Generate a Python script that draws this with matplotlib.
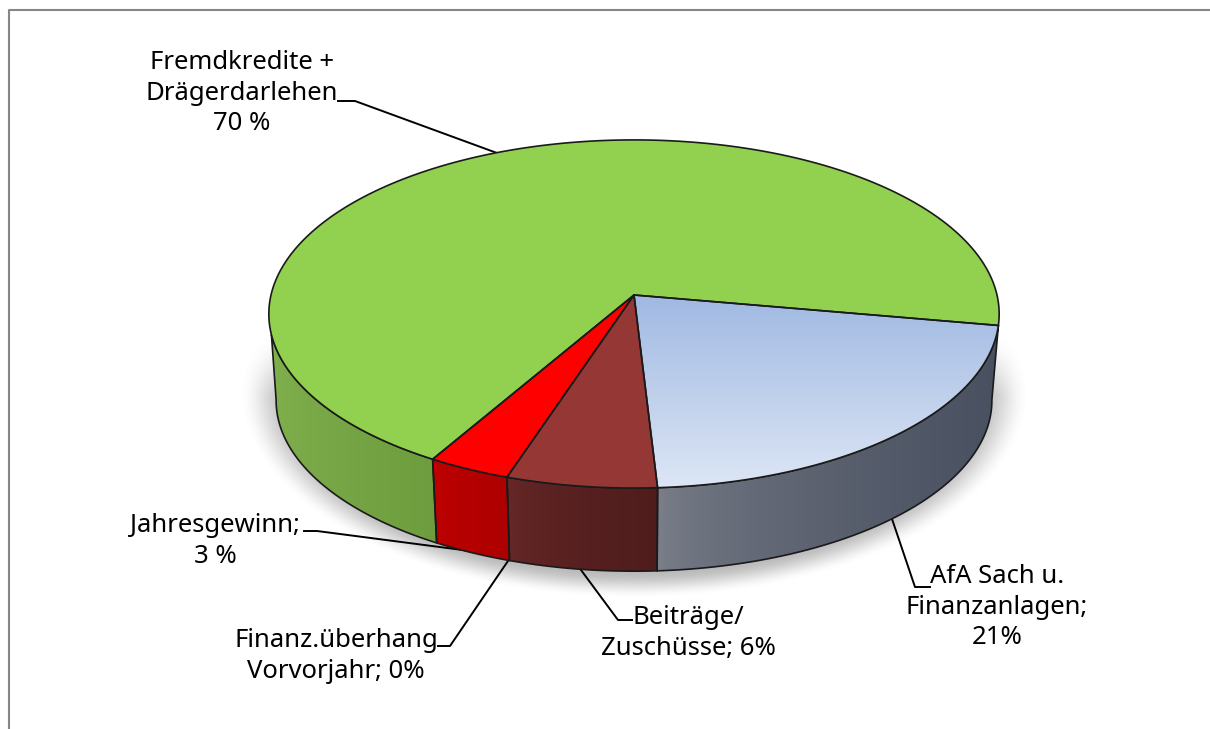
# 3D-style pie of the financing shares, drawn in pixel coordinates
import numpy as np
import matplotlib
matplotlib.use('Agg')
import matplotlib.pyplot as plt
from matplotlib.patches import Polygon

#%% data
names = ['AfA Sach u. Finanzanlagen', 'Beiträge/Zuschüsse', 'Jahresgewinn',
         'Finanz.überhang Vorvorjahr', 'Fremdkredite + Drägerdarlehen']
shares = [21.3, 6.0, 3.3, 0.0, 69.4]
face_colors = ['#a0b9e2', '#953735', '#ff0000', '#ff0000', '#92d050']
side_left = ['#7c818b', '#682828', '#c00000', '#c00000', '#82b24e']
side_right = ['#495060', '#4f1c1c', '#ae0000', '#ae0000', '#6e9d3f']

label_texts = ['Fremdkredite +\nDrägerdarlehen\n70 %', 'Jahresgewinn;\n3 %',
               'Finanz.überhang\nVorvorjahr; 0%', 'Beiträge/\nZuschüsse; 6%',
               'AfA Sach u.\nFinanzanlagen;\n21%']
label_pos = [(242, 93), (215, 541), (336, 656), (688, 633), (997, 607)]
leaders = [[(338, 101), (355, 101), (497, 153)],
           [(304, 531), (317, 531), (478, 552)],
           [(438, 646), (450, 646), (510, 558)],
           [(632, 620), (618, 620), (581, 570)],
           [(930, 587), (915, 587), (891, 516)]]

#%% geometry of the tilted disc
cx, cy = 634, 295
C, A, K = 363, 172, 0.109
START = -10.0
DEPTH, SCALE = 87, 0.98


def top(t):
    t = np.radians(t)
    u, v = np.cos(t), np.sin(t)
    d = 1 + K * v
    return cx + C * u / d, cy - A * v / d


def bottom(t):
    x, y = top(t)
    return cx + SCALE * (x - cx), cy + DEPTH + SCALE * (y - cy)


def arc(f, t0, t1, n=120):
    x, y = f(np.linspace(t0, t1, n))
    return np.column_stack([x, y])


fig = plt.figure(figsize=(12.10, 7.29), dpi=100)
ax = fig.add_axes([0, 0, 1, 1])
ax.set_xlim(0, 1210)
ax.set_ylim(729, 0)
ax.axis('off')

# chart frame, cut off at the right and the bottom of the picture
ax.plot([9, 9, 1210], [729, 10, 10], color='#868686', lw=1.5, zorder=1)

#%% soft shadow under the pie
yy, xx = np.mgrid[300:620, 230:1040]
r = np.hypot((xx - 634) / 395, (yy - 392) / 206)
fade = np.clip((1.0 - r) / 0.13, 0, 1)
fade = fade * fade * (3 - 2 * fade)
fade = fade * np.clip((yy - 335) / 60, 0, 1)
rgba = np.zeros(xx.shape + (4,))
rgba[..., :3] = 0.4
rgba[..., 3] = 0.45 * fade
ax.imshow(rgba, extent=(230, 1040, 620, 300), zorder=2, interpolation='bilinear')

#%% slices: angles come from the shares, clockwise from START
ends = START - 3.6 * np.cumsum(shares)
starts = np.r_[START, ends[:-1]]

grad = np.linspace(0, 1, 256)
for i in range(len(shares)):
    if shares[i] == 0:
        continue
    t0, t1 = starts[i], ends[i]
    # side wall, only the part that faces the viewer
    a0, a1 = max(t0, -180), max(t1, -167)
    if a0 > a1:
        b0 = -6 if i == 0 else a0
        b1 = -174 if t1 < -167 else a1
        pts = np.vstack([arc(top, a0, a1), arc(bottom, b1, b0)])
        c0 = np.array(matplotlib.colors.to_rgb(side_left[i]))
        c1 = np.array(matplotlib.colors.to_rgb(side_right[i]))
        img = (c0[None, :] + (c1 - c0)[None, :] * grad[:, None] ** 0.6)[None, :, :]
        side = Polygon(pts, closed=True, fc='none', ec='none', zorder=3)
        ax.add_patch(side)
        im = ax.imshow(img, extent=(pts[:, 0].min(), pts[:, 0].max(), pts[:, 1].max(), pts[:, 1].min()),
                       aspect='auto', zorder=3, interpolation='bilinear')
        im.set_clip_path(side)
        ax.add_patch(Polygon(pts, closed=True, fc='none', ec='#1a1a1a', lw=1.2, zorder=4))

for i in range(len(shares)):
    if shares[i] == 0:
        continue
    pts = np.vstack([[cx, cy], arc(top, starts[i], ends[i], 240)])
    if i == 0:
        # the light blue slice fades downwards
        wedge = Polygon(pts, closed=True, fc='none', ec='none', zorder=5)
        ax.add_patch(wedge)
        c0 = np.array(matplotlib.colors.to_rgb('#a0b9e2'))
        c1 = np.array(matplotlib.colors.to_rgb('#dde6f5'))
        img = (c0[None, :] + (c1 - c0)[None, :] * grad[:, None])[:, None, :]
        im = ax.imshow(img, extent=(pts[:, 0].min(), pts[:, 0].max(), pts[:, 1].max(), pts[:, 1].min()),
                       aspect='auto', zorder=5, interpolation='bilinear')
        im.set_clip_path(wedge)
    else:
        ax.add_patch(Polygon(pts, closed=True, fc=face_colors[i], ec='none', zorder=5))
    ax.add_patch(Polygon(pts, closed=True, fc='none', ec='#1a1a1a', lw=1.2, zorder=6))

ax.set_xlim(0, 1210)
ax.set_ylim(729, 0)
ax.set_aspect('auto')

#%% labels and leader lines
for txt, (x, y) in zip(label_texts, label_pos):
    ax.text(x, y, txt, ha='center', va='center', fontsize=18.5, color='black',
            family='Noto Sans', linespacing=1.31, zorder=8)
for line in leaders:
    xs, ys = zip(*line)
    ax.plot(xs, ys, color='black', lw=1.4, zorder=2.5, solid_joinstyle='round')

fig.savefig('out.png', dpi=100)
